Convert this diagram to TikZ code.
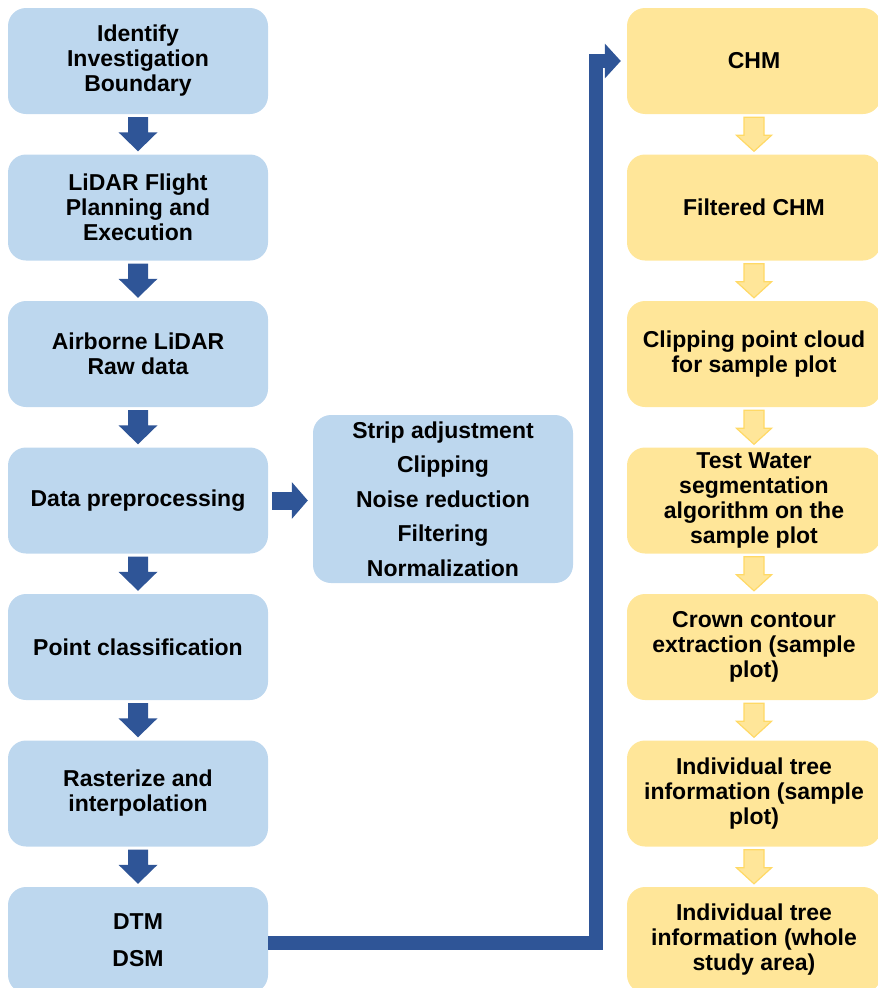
\documentclass[tikz,border=0pt]{standalone}
\usepackage{fontspec}
\setmainfont{Liberation Sans}
\usetikzlibrary{arrows.meta,calc}
\definecolor{boxblue}{HTML}{BDD7EE}
\definecolor{boxyellow}{HTML}{FFE699}
\definecolor{arrowblue}{HTML}{2F5597}
\definecolor{arrowyellowline}{HTML}{FFD966}
% #1 style, #2 from node, #3 to node, #4 shaft half width, #5 head half width, #6 head length
\newcommand{\flowdown}[6]{%
  \path[#1] let \p1=(#2.south), \p2=(#3.north) in
    (\x1-#4,\y1-3pt) -- (\x1+#4,\y1-3pt) -- (\x1+#4,\y2+3pt+#6) -- (\x1+#5,\y2+3pt+#6)
    -- (\x1,\y2+3pt) -- (\x1-#5,\y2+3pt+#6) -- (\x1-#4,\y2+3pt+#6) -- cycle;}
\begin{document}
\begin{tikzpicture}[x=1pt,y=-1pt,
  box/.style={rounded corners=18pt, minimum height=106pt, align=center, inner sep=2pt,
    font=\bfseries\fontsize{23}{25}\selectfont, text=black},
  lbox/.style={box, fill=boxblue, minimum width=260pt},
  rbox/.style={box, fill=boxyellow, minimum width=254pt},
  bluehead/.style={fill=arrowblue},
  yellowhead/.style={fill=boxyellow, draw=arrowyellowline, line width=1.2pt, line join=miter},
  bigconn/.style={draw=arrowblue, line width=14pt, line join=miter,
    -{Triangle[width=34pt 0 0,length=16pt 0 0]}},
  sidearrow/.style={draw=arrowblue, line width=18pt,
    -{Triangle[width=36pt 0 0,length=16pt 0 0]}}]
\useasboundingbox (0,0) rectangle (878,988);
% left column
\node[lbox] (l1) at (138,61) {Identify\\Investigation\\Boundary};
\node[lbox] (l2) at (138,207.5) {LiDAR Flight\\Planning and\\Execution};
\node[lbox] (l3) at (138,354) {Airborne LiDAR\\Raw data};
\node[lbox] (l4) at (138,500.5) {Data preprocessing};
\node[lbox] (l5) at (138,647) {Point classification};
\node[lbox] (l6) at (138,793.5) {Rasterize and\\interpolation};
\node[lbox, font=\bfseries\fontsize{23}{37}\selectfont] (l7) at (138,940) {DTM\\DSM};
% middle box
\node[box, fill=boxblue, minimum width=260pt, minimum height=168pt,
  font=\bfseries\fontsize{23}{34.5}\selectfont] (mid) at (443,499)
  {Strip adjustment\\Clipping\\Noise reduction\\Filtering\\Normalization};
% right column
\node[rbox] (r1) at (754,61) {CHM};
\node[rbox] (r2) at (754,207.5) {Filtered CHM};
\node[rbox] (r3) at (754,354) {Clipping point cloud\\for sample plot};
\node[rbox] (r4) at (754,500.5) {Test Water\\segmentation\\algorithm on the\\sample plot};
\node[rbox] (r5) at (754,647) {Crown contour\\extraction (sample\\plot)};
\node[rbox] (r6) at (754,793.5) {Individual tree\\information (sample\\plot)};
\node[rbox] (r7) at (754,940) {Individual tree\\information (whole\\study area)};
% left arrows
\flowdown{bluehead}{l1}{l2}{10pt}{19.5pt}{19pt}
\flowdown{bluehead}{l2}{l3}{10pt}{19.5pt}{19pt}
\flowdown{bluehead}{l3}{l4}{10pt}{19.5pt}{19pt}
\flowdown{bluehead}{l4}{l5}{10pt}{19.5pt}{19pt}
\flowdown{bluehead}{l5}{l6}{10pt}{19.5pt}{19pt}
\flowdown{bluehead}{l6}{l7}{10pt}{19.5pt}{19pt}
% right arrows
\flowdown{yellowhead}{r1}{r2}{10pt}{17.5pt}{16pt}
\flowdown{yellowhead}{r2}{r3}{10pt}{17.5pt}{16pt}
\flowdown{yellowhead}{r3}{r4}{10pt}{17.5pt}{16pt}
\flowdown{yellowhead}{r4}{r5}{10pt}{17.5pt}{16pt}
\flowdown{yellowhead}{r5}{r6}{10pt}{17.5pt}{16pt}
\flowdown{yellowhead}{r6}{r7}{10pt}{17.5pt}{16pt}
% side arrow to middle box
\draw[sidearrow, shorten <=4pt, shorten >=5pt] (l4.east) -- (l4.east -| mid.west);
% big connector
\coordinate (elbow) at ($(r1.west)+(-30.5,0)$);
\coordinate (chmin) at ($(r1.west)+(-6,0)$);
\draw[bigconn] ($(l7.east)+(0,2.5)$) -| (elbow) -- (chmin);
\end{tikzpicture}
\end{document}
